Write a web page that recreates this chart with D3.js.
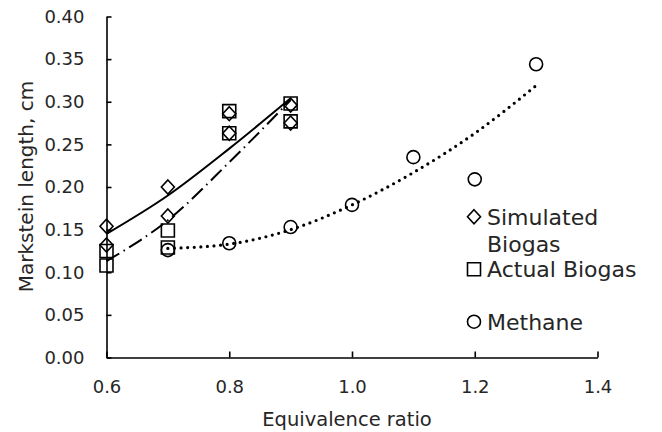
<!DOCTYPE html>
<html>
<head>
<meta charset="utf-8">
<script src="https://cdn.jsdelivr.net/npm/d3@7"></script>
<style>
  html, body { margin: 0; padding: 0; background: #fff; }
</style>
</head>
<body>
<div id="chart"></div>
<script>
// values
var xTicks = [0.6, 0.8, 1.0, 1.2, 1.4];
var yTicks = [0, 0.05, 0.10, 0.15, 0.20, 0.25, 0.30, 0.35, 0.40];

var simX = [0.6, 0.6, 0.7, 0.7, 0.8, 0.8, 0.9, 0.9];
var simY = [0.154, 0.132, 0.200, 0.166, 0.286, 0.263, 0.296, 0.275];

var actX = [0.6, 0.6, 0.7, 0.7, 0.8, 0.8, 0.9, 0.9];
var actY = [0.125, 0.108, 0.149, 0.129, 0.289, 0.263, 0.298, 0.277];

var methX = [0.7, 0.8, 0.9, 1.0, 1.1, 1.2, 1.3];
var methY = [0.126, 0.134, 0.153, 0.179, 0.235, 0.209, 0.344];

// trendlines as seen in the picture
var simTrendX = [0.6, 0.7, 0.8, 0.9];
var simTrendY = [0.145, 0.190, 0.245, 0.304];
var actTrendX = [0.6, 0.7, 0.8, 0.9];
var actTrendY = [0.113, 0.161, 0.229, 0.302];
var methTrendX = [0.7, 0.8, 0.9, 1.0, 1.1, 1.2, 1.3];
var methTrendY = [0.128, 0.133, 0.150, 0.179, 0.217, 0.263, 0.319];

var legendLabels = [["Simulated", "Biogas"], ["Actual Biogas"], ["Methane"]];
var xLabel = "Equivalence ratio";
var yLabel = "Markstein length, cm";

var W = 662, H = 432;
var margin = { top: 16.5, left: 106.5 },
    width = 491, height = 341;
var font = "'DejaVu Sans', sans-serif";
var ink = "#262626";

var x = d3.scaleLinear().domain([0.6, 1.4]).range([0, width]);
var y = d3.scaleLinear().domain([0, 0.4]).range([height, 0]);

var svg = d3.select("#chart").append("svg")
    .attr("width", W)
    .attr("height", H)
    .style("font-family", font);

var g = svg.append("g")
    .attr("transform", "translate(" + margin.left + "," + margin.top + ")");

// axes
var xAxis = d3.axisBottom(x).tickValues(xTicks).tickFormat(d3.format(".1f"))
    .tickSizeInner(-6).tickSizeOuter(0).tickPadding(23);
var yAxis = d3.axisLeft(y).tickValues(yTicks).tickFormat(d3.format(".2f"))
    .tickSizeInner(-5).tickSizeOuter(0).tickPadding(22);

g.append("g")
    .attr("class", "x axis")
    .attr("transform", "translate(0," + height + ")")
    .call(xAxis);
g.append("g")
    .attr("class", "y axis")
    .call(yAxis);

svg.selectAll(".axis path, .axis line")
    .style("stroke", "#000").style("stroke-width", "1.6px");
svg.selectAll(".axis text")
    .style("font-family", font).style("font-size", "18px").style("fill", ink);

svg.append("text")
    .attr("x", 347)
    .attr("y", 426)
    .style("text-anchor", "middle")
    .style("font-size", "19.5px")
    .style("fill", ink)
    .text(xLabel);

svg.append("text")
    .attr("transform", "rotate(-90)")
    .attr("x", -186.5)
    .attr("y", 33)
    .style("text-anchor", "middle")
    .style("font-size", "20px")
    .style("fill", ink)
    .text(yLabel);

// trendlines
function pts(xs, ys) {
    return xs.map(function (d, i) { return [d, ys[i]]; });
}
var line = d3.line()
    .x(function (d) { return x(d[0]); })
    .y(function (d) { return y(d[1]); })
    .curve(d3.curveMonotoneX);

g.append("path")
    .datum(pts(simTrendX, simTrendY))
    .attr("d", line)
    .style("fill", "none").style("stroke", "#000").style("stroke-width", "2px");

g.append("path")
    .datum(pts(actTrendX, actTrendY))
    .attr("d", line)
    .style("fill", "none").style("stroke", "#000").style("stroke-width", "2px")
    .style("stroke-dasharray", "15 5 1.5 5");

g.append("path")
    .datum(pts(methTrendX, methTrendY))
    .attr("d", line)
    .style("fill", "none").style("stroke", "#000").style("stroke-width", "3.2px")
    .style("stroke-linecap", "round")
    .style("stroke-dasharray", "0 6.6");

// markers
var diamond = "M0,-7L6.5,0L0,7L-6.5,0Z";
var square = "M-6.5,-6.5H6.5V6.5H-6.5Z";
var circle = d3.symbol().type(d3.symbolCircle).size(Math.PI * 6.5 * 6.5)();
var shapes = [diamond, square, circle];

function markers(xs, ys, shape) {
    g.append("g").selectAll("path")
        .data(pts(xs, ys)).enter()
        .append("path")
        .attr("transform", function (d) { return "translate(" + x(d[0]) + "," + y(d[1]) + ")"; })
        .attr("d", shape)
        .style("fill", "none").style("stroke", "#000").style("stroke-width", "1.6px");
}
markers(simX, simY, diamond);
markers(actX, actY, square);
markers(methX, methY, circle);

// legend
var legend = svg.append("g").attr("class", "legend");
legendLabels.forEach(function (lines, i) {
    var cy = 216.7 + i * 52.5;
    legend.append("path")
        .attr("transform", "translate(474," + cy + ")")
        .attr("d", shapes[i])
        .style("fill", "none").style("stroke", "#000").style("stroke-width", "1.6px");
    var t = legend.append("text")
        .attr("x", 487)
        .attr("y", cy + 8)
        .style("font-size", "22px")
        .style("fill", ink);
    lines.forEach(function (s, j) {
        t.append("tspan").attr("x", 487).attr("dy", j === 0 ? 0 : 27.5).text(s);
    });
});
</script>
</body>
</html>
